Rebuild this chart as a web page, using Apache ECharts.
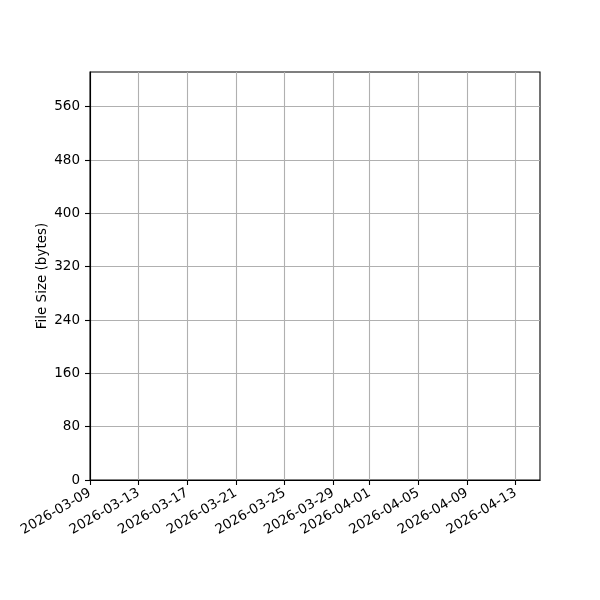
<!DOCTYPE html>
<html>
<head>
<meta charset="utf-8">
<script src="https://cdn.jsdelivr.net/npm/echarts@6/dist/echarts.min.js"></script>
<style>
html,body{margin:0;padding:0;background:#fff;}
#chart{width:600px;height:600px;}
</style>
</head>
<body>
<div id="chart"></div>
<script>
// Data (the reference chart contains no plotted points)
const dates = [];
const fileSizes = [];
const xTickLabels = ['2026-03-09','2026-03-13','2026-03-17','2026-03-21','2026-03-25','2026-03-29','2026-04-01','2026-04-05','2026-04-09','2026-04-13'];
const xRange = ['2026-03-09','2026-04-15'];
const yTicks = [0,80,160,240,320,400,480,560];
const yMax = 612;

function ts(s){ const p = s.split('-').map(Number); return new Date(p[0], p[1]-1, p[2]).getTime(); }
function pad(n){ return (n<10?'0':'')+n; }
function fmt(v){ const d = new Date(Math.round(v)); return d.getFullYear()+'-'+pad(d.getMonth()+1)+'-'+pad(d.getDate()); }

const xTickValues = xTickLabels.map(ts);
const font = 'DejaVu Sans';
const fs = 13.5;

const chart = echarts.init(document.getElementById('chart'), null, {renderer:'canvas'});
chart.setOption({
  animation: false,
  backgroundColor: '#fff',
  grid: {left: 90, right: 60, top: 72, bottom: 120, show: true, borderColor: '#000', borderWidth: 1.1, backgroundColor: '#fff'},
  xAxis: {
    type: 'value',
    min: ts(xRange[0]), max: ts(xRange[1]),
    axisLine: {show: true, onZero: false, lineStyle: {color: '#000', width: 1.1}},
    axisTick: {show: true, customValues: xTickValues, length: 5, lineStyle: {color: '#000', width: 1.1}},
    axisLabel: {customValues: xTickValues, rotate: 30, margin: 12, color: '#000', fontFamily: font, fontSize: fs, formatter: function(v){ return fmt(v); }},
    splitLine: {show: true, lineStyle: {color: '#b0b0b0', width: 1.1}}
  },
  yAxis: {
    type: 'value',
    min: 0, max: yMax,
    name: 'File Size (bytes)', nameLocation: 'middle', nameGap: 41, nameMoveOverlap: false,
    nameTextStyle: {color: '#000', fontFamily: font, fontSize: fs},
    axisLine: {show: true, lineStyle: {color: '#000', width: 1.1}},
    axisTick: {show: true, customValues: yTicks, length: 5, lineStyle: {color: '#000', width: 1.1}},
    axisLabel: {customValues: yTicks, margin: 10, color: '#000', fontFamily: font, fontSize: fs},
    splitLine: {show: true, lineStyle: {color: '#b0b0b0', width: 1.1}}
  },
  series: [{
    type: 'line',
    data: dates.map((d,i)=>[ts(d), fileSizes[i]]),
    color: '#1f77b4'
  }]
});
</script>
</body>
</html>
